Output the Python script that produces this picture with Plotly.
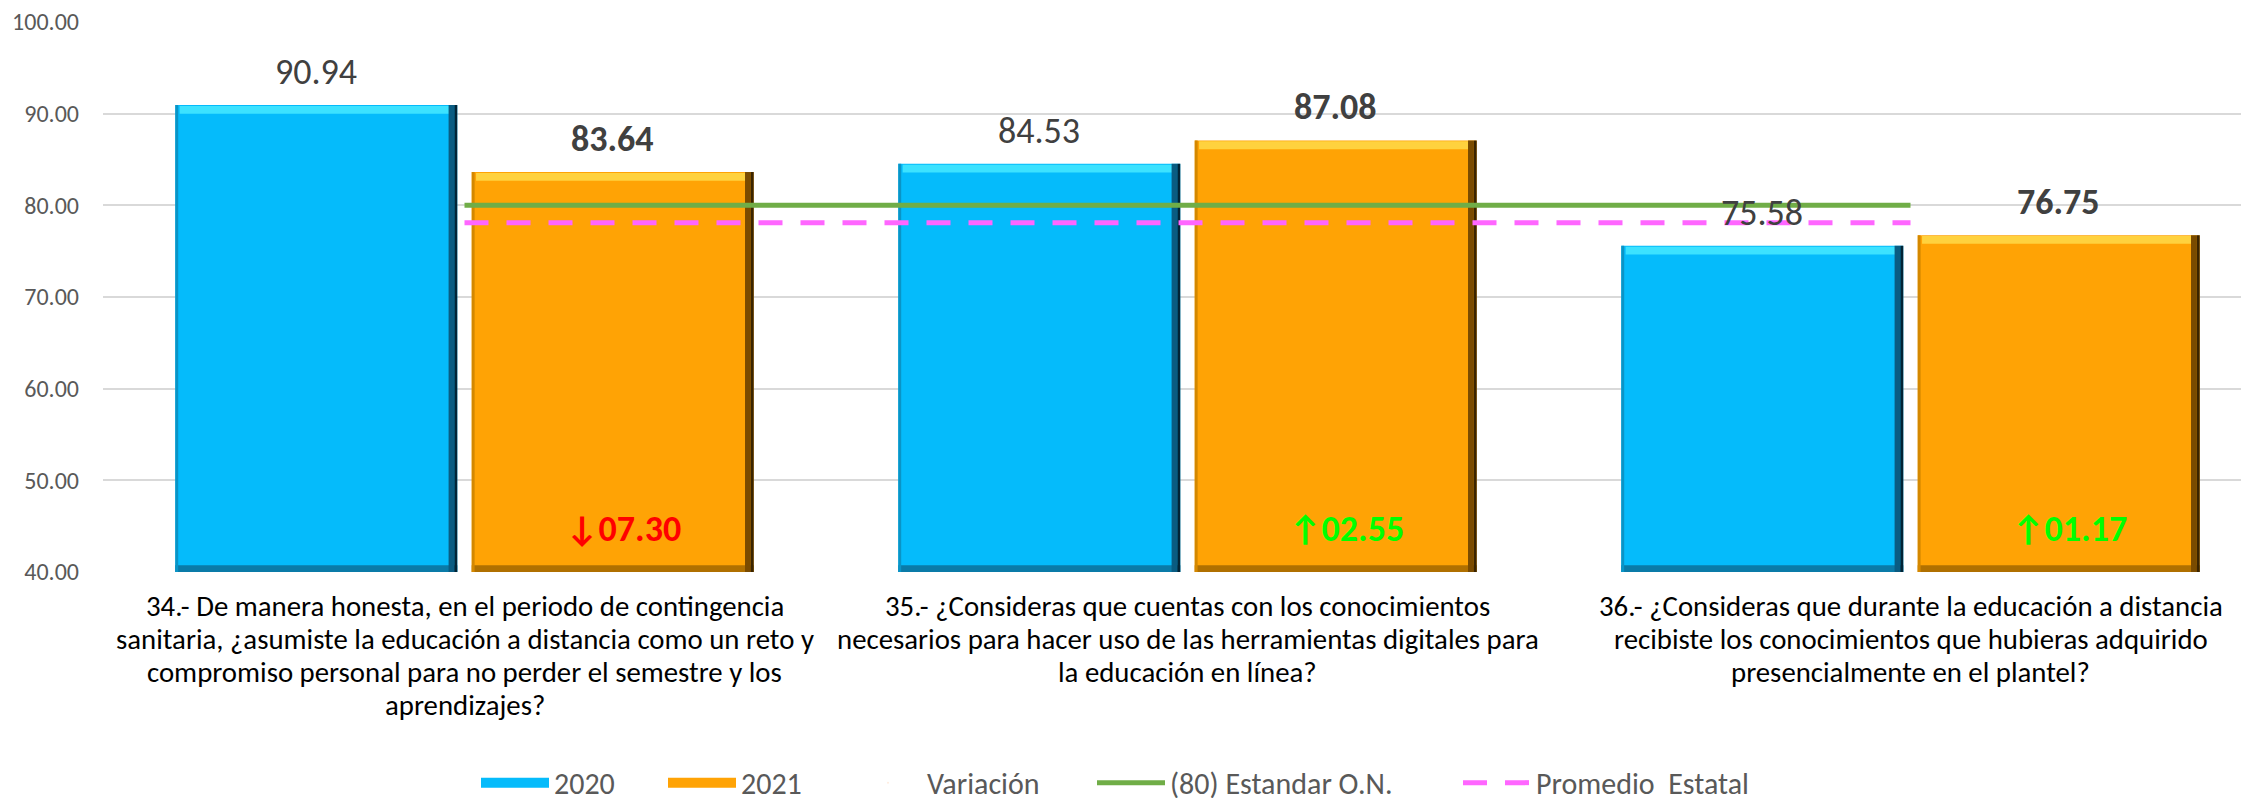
import plotly.graph_objects as go

# ---------------- data ----------------
categories = [
    "34.- De manera honesta, en el periodo de contingencia\n"
    "sanitaria, ¿asumiste la educación a distancia como un reto y\n"
    "compromiso personal para no perder el semestre y los\n"
    "aprendizajes?",
    "35.- ¿Consideras que cuentas con los conocimientos\n"
    "necesarios para hacer uso de las herramientas digitales para\n"
    "la educación en línea?",
    "36.- ¿Consideras que durante la educación a distancia\n"
    "recibiste los conocimientos que hubieras adquirido\n"
    "presencialmente en el plantel?",
]
values_2020 = [90.94, 84.53, 75.58]
values_2021 = [83.64, 87.08, 76.75]
variation = [-7.30, 2.55, 1.17]
estandar_on = [80, 80, 80]
promedio_estatal = [78.1, 78.1, 78.1]
y_ticks = [40, 50, 60, 70, 80, 90, 100]
series_names = ["2020", "2021", "Variación", "(80) Estandar O.N.", "Promedio\u00a0 Estatal"]

# ---------------- style ----------------
FONT = "Carlito, Calibri, 'Liberation Sans Narrow', Roboto, sans-serif"
FIG_W, FIG_H = 2241, 790
M_L, M_T, M_B = 95, 14, 226
PLOT_W = FIG_W - M_L
Y_MIN, Y_MAX = 40, 100
BAR_W = 0.39
OFF_2020 = -0.40
OFF_2021 = 0.01
BLUE = dict(main="#05BBFB", top="#3CE2FF", right="#0A5C82", outer="#022436",
            bottom="#0A7BA8", left="#0A94C6")
ORANGE = dict(main="#FFA305", top="#FFD23E", right="#7A4B00", outer="#3A2400",
              bottom="#B07000", left="#D48800")
GREEN = "#70AD47"
PINK = "#FF66FF"
LABEL_COLOR = "#404040"
VAR_Y = 44.7
VALUE_SHIFT = 9
CAT_FIRST = 34
CAT_LINE = 33
LEGEND_LEFT_PX = [468, 655, 841, 1084, 1450]   # left edge of each legend entry, figure px
LEGEND_Y = -0.383

x_pos = list(range(len(categories)))
fig = go.Figure()


def add_bar_set(values, offset, col):
    common = dict(x=x_pos, hoverinfo="skip", showlegend=False, marker_line_width=0)
    fig.add_trace(go.Bar(y=values, offset=offset, width=BAR_W, marker_color=col["main"], **common))
    fig.add_trace(go.Bar(y=[0.75] * len(values), base=[Y_MIN] * len(values), offset=offset,
                         width=BAR_W, marker_color=col["bottom"], **common))
    fig.add_trace(go.Bar(y=[0.85] * len(values), base=[v - 0.95 for v in values], offset=offset + 0.006,
                         width=BAR_W - 0.014, marker_color=col["top"], **common))
    fig.add_trace(go.Bar(y=values, offset=offset, width=0.004, marker_color=col["left"], **common))
    fig.add_trace(go.Bar(y=values, offset=offset + BAR_W - 0.012, width=0.008,
                         marker_color=col["right"], **common))
    fig.add_trace(go.Bar(y=values, offset=offset + BAR_W - 0.004, width=0.004,
                         marker_color=col["outer"], **common))


add_bar_set(values_2020, OFF_2020, BLUE)
add_bar_set(values_2021, OFF_2021, ORANGE)

legend_ids = ["legend", "legend2", "legend3", "legend4", "legend5"]

# legend-only entries
fig.add_trace(go.Scatter(x=[None], y=[None], mode="lines", name=series_names[0], legend=legend_ids[0],
                         line=dict(color=BLUE["main"], width=19)))
fig.add_trace(go.Scatter(x=[None], y=[None], mode="lines", name=series_names[1], legend=legend_ids[1],
                         line=dict(color=ORANGE["main"], width=19)))
fig.add_trace(go.Scatter(x=[None], y=[None], mode="markers", name=series_names[2], legend=legend_ids[2],
                         marker=dict(opacity=0, size=1)))

# reference lines
fig.add_trace(go.Scatter(x=x_pos, y=estandar_on, mode="lines", name=series_names[3], legend=legend_ids[3],
                         line=dict(color=GREEN, width=5), hoverinfo="skip"))
fig.add_trace(go.Scatter(x=x_pos, y=promedio_estatal, mode="lines", name=series_names[4], legend=legend_ids[4],
                         line=dict(color=PINK, width=5, dash="24px,18px"), hoverinfo="skip"))

annotations = []
for i, v in enumerate(values_2020):
    annotations.append(dict(x=x_pos[i] + OFF_2020 + BAR_W / 2, y=v, xref="x", yref="y",
                            text=f"{v:.2f}", showarrow=False, yanchor="bottom", yshift=VALUE_SHIFT,
                            font=dict(family=FONT, size=36, color=LABEL_COLOR)))
for i, v in enumerate(values_2021):
    annotations.append(dict(x=x_pos[i] + OFF_2021 + BAR_W / 2, y=v, xref="x", yref="y",
                            text=f"{v:.2f}", showarrow=False, yanchor="bottom", yshift=VALUE_SHIFT,
                            font=dict(family=FONT, size=36, color=LABEL_COLOR, weight="bold")))
for i, d in enumerate(variation):
    arrow = "↑" if d >= 0 else "↓"
    color = "#00FF00" if d >= 0 else "#FF0000"
    annotations.append(dict(x=x_pos[i] + OFF_2021 + BAR_W / 2, y=VAR_Y, xref="x", yref="y",
                            text=f"{arrow}{abs(d):05.2f}", showarrow=False, yanchor="middle",
                            xshift=11, font=dict(family=FONT, size=36, color=color, weight="bold")))
for i, cat in enumerate(categories):
    for j, line in enumerate(cat.split("\n")):
        annotations.append(dict(x=x_pos[i], y=0, xref="x", yref="paper", text=line,
                                showarrow=False, yanchor="middle", xanchor="center",
                                yshift=-(CAT_FIRST + j * CAT_LINE),
                                font=dict(family=FONT, size=28.8, color="#000000")))

legend_layout = {}
for lid, px in zip(legend_ids, LEGEND_LEFT_PX):
    legend_layout[lid] = dict(orientation="h", x=(px - M_L) / PLOT_W, xanchor="left",
                              y=LEGEND_Y, yanchor="middle", itemwidth=68,
                              font=dict(family=FONT, size=30, color="#595959"),
                              bgcolor="rgba(0,0,0,0)", borderwidth=0)

fig.update_layout(
    width=FIG_W, height=FIG_H,
    margin=dict(l=M_L, r=0, t=M_T, b=M_B, autoexpand=False),
    barmode="overlay",
    plot_bgcolor="white", paper_bgcolor="white",
    font=dict(family=FONT),
    annotations=annotations,
    showlegend=True,
    xaxis=dict(range=[-0.5, -0.5 + PLOT_W / 723.0], showticklabels=False, showgrid=False,
               zeroline=False, showline=False, fixedrange=True),
    yaxis=dict(range=[Y_MIN, Y_MAX], tickvals=y_ticks, tickformat=".2f", gridcolor="#D9D9D9",
               gridwidth=1.5, zeroline=False, showline=False, ticklabelstandoff=23,
               ticklabeloverflow="allow",
               tickfont=dict(family=FONT, size=24, color="#595959"), fixedrange=True),
    **legend_layout,
)

fig.write_html("out.html")
